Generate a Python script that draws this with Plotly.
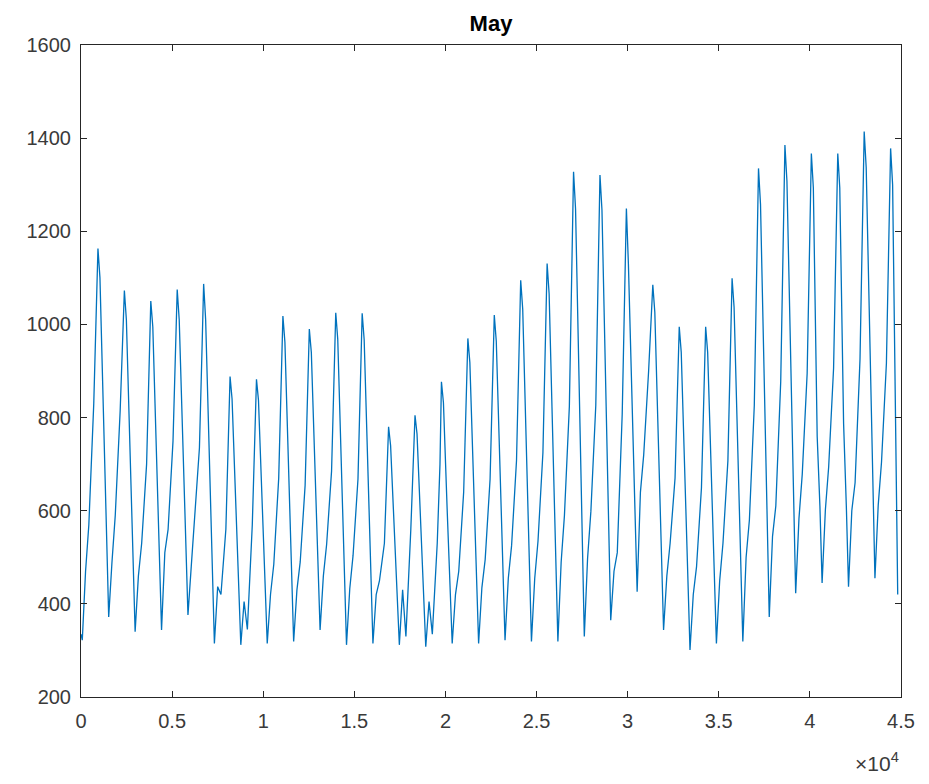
import plotly.graph_objects as go

# Sample-index scale: about 1450 samples per day, 31 days
samples_per_day = 1450
n_days = 31
start_value = 335
end_index = 44820
end_value = 420

# key sample offsets inside each day (trough, rise..., peak, fall...)
key_offsets = [70, 250, 430, 700, 850, 930, 1040, 1250, 1400]

trough   = [322, 372, 340, 344, 376, 315, 312, 315, 319, 344, 312, 315, 312, 308, 315, 315,
            322, 319, 319, 330, 365, 426, 344, 301, 315, 319, 372, 423, 445, 437, 455]
rise_a   = [470, 490, 460, 510, 480, 437, 405, 420, 430, 460, 433, 420, 430, 405, 420, 435,
            455, 455, 490, 498, 470, 640, 460, 420, 450, 500, 545, 583, 602, 600, 612]
rise_b   = [570, 590, 530, 560, 575, 420, 345, 485, 490, 528, 504, 450, 330, 335, 470, 495,
            525, 535, 590, 598, 510, 720, 530, 480, 530, 580, 610, 678, 694, 660, 704]
rise_c   = [830, 815, 700, 750, 735, 560, 570, 670, 655, 685, 668, 530, 560, 530, 640, 668,
            708, 725, 824, 826, 807, 900, 670, 650, 707, 827, 878, 895, 906, 925, 917]
rise_d   = [1050, 1000, 930, 990, 960, 775, 760, 900, 870, 900, 896, 690, 720, 700, 850, 893,
            956, 985, 1146, 1143, 1090, 1020, 880, 870, 958, 1152, 1203, 1197, 1201, 1238, 1212]
peak     = [1163, 1073, 1050, 1075, 1087, 888, 882, 1018, 990, 1025, 1024, 780, 805, 877, 970, 1020,
            1095, 1131, 1328, 1321, 1249, 1085, 995, 995, 1099, 1335, 1385, 1367, 1367, 1414, 1378]
post     = [1100, 1010, 995, 1010, 1010, 840, 837, 962, 940, 968, 967, 740, 765, 832, 918, 964,
            1033, 1066, 1248, 1245, 1130, 1026, 940, 940, 1037, 1258, 1308, 1293, 1293, 1337, 1300]
fall_a   = [768, 707, 697, 726, 701, 600, 599, 669, 667, 669, 670, 546, 557, 596, 643, 671,
            707, 725, 829, 843, 838, 715, 648, 655, 709, 854, 904, 760, 787, 935, 640]
fall_b   = [530, 487, 485, 516, 469, 427, 428, 459, 473, 455, 457, 406, 407, 427, 446, 462,
            474, 481, 530, 556, 591, 492, 440, 451, 475, 565, 615, 610, 610, 647, None]

series = [trough, rise_a, rise_b, rise_c, rise_d, peak, post, fall_a, fall_b]

xs = [0]
ys = [start_value]
for d in range(n_days):
    for off, arr in zip(key_offsets, series):
        v = arr[d]
        if v is None:
            continue
        xi = d * samples_per_day + off
        if xi >= end_index:
            continue
        xs.append(xi)
        ys.append(v)
xs.append(end_index)
ys.append(end_value)

x_tick_vals = [0, 5000, 10000, 15000, 20000, 25000, 30000, 35000, 40000, 45000]
x_tick_text = ["0", "0.5", "1", "1.5", "2", "2.5", "3", "3.5", "4", "4.5"]
y_tick_vals = [200, 400, 600, 800, 1000, 1200, 1400, 1600]

fig = go.Figure()
fig.add_trace(go.Scatter(x=xs, y=ys, mode="lines",
                         line=dict(color="#0072BD", width=1.3),
                         showlegend=False, hoverinfo="skip"))

FONT = "Liberation Sans, Arial, sans-serif"
axis_font = dict(family=FONT, size=20, color="#3a3a3a")
fig.update_layout(
    width=929, height=784,
    margin=dict(l=81, r=28, t=45, b=87),
    paper_bgcolor="white", plot_bgcolor="white",
    title=dict(text="<b>May</b>", x=(81 + 901) / 2 / 929, xanchor="center",
               y=1 - 23 / 784, yanchor="middle",
               font=dict(family=FONT, size=22, color="#000000")),
    xaxis=dict(range=[0, 45000], tickvals=x_tick_vals, ticktext=x_tick_text,
               showgrid=False, zeroline=False, showline=True, linecolor="#262626",
               linewidth=1, mirror="ticks", ticks="inside", ticklen=6, tickcolor="#262626",
               tickfont=axis_font, ticklabelstandoff=6),
    yaxis=dict(range=[200, 1600], tickvals=y_tick_vals,
               showgrid=False, zeroline=False, showline=True, linecolor="#262626",
               linewidth=1, mirror="ticks", ticks="inside", ticklen=6, tickcolor="#262626",
               tickfont=axis_font, ticklabelstandoff=5),
    annotations=[dict(text="×10<sup>4</sup>", xref="paper", yref="paper",
                      x=1.0, y=-(762 - 697) / 652, xanchor="right", yanchor="middle",
                      showarrow=False,
                      font=dict(family=FONT, size=21, color="#3a3a3a"))],
)

fig.write_html("out.html")
